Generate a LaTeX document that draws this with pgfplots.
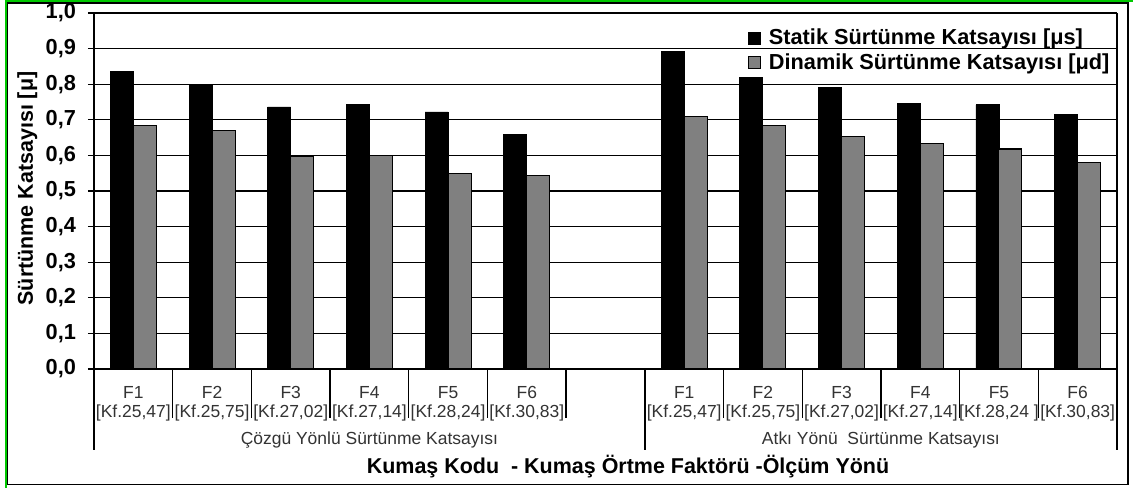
\documentclass[border=0pt]{standalone}
\usepackage{fontspec}
\setmainfont{Liberation Sans}
\usepackage{pgfplots}
\pgfplotsset{compat=1.18}
\definecolor{frgreen}{RGB}{0,200,0}
\definecolor{dyngray}{RGB}{128,128,128}
\begin{document}
\begin{tikzpicture}
\useasboundingbox (0,0) rectangle (849.75pt,366pt);
\fill[white] (0,0) rectangle (849.75pt,366pt);
\draw[black, line width=1.1pt] (5.8pt,2.6pt) rectangle (846pt,363.9pt);
\draw[frgreen, line width=1.4pt] (4.6pt,0pt) -- (4.6pt,365.3pt) -- (849.75pt,365.3pt);
\begin{axis}[
  at={(70.5pt,89.25pt)}, anchor=south west,
  scale only axis, width=767.25pt, height=267pt,
  xmin=-0.5, xmax=12.5, ymin=0, ymax=1,
  clip=false,
  ybar=0pt, bar width=17.25pt,
  axis x line*=bottom, axis y line*=left,
  axis line style={-, line width=1pt, black},
  ytick={0,0.1,0.2,0.3,0.4,0.5,0.6,0.7,0.8,0.9,1},
  ymajorgrids, grid style={black, line width=1pt},
  ytick align=outside, major tick length=4.5pt,
  ytick style={black, line width=1pt},
  yticklabel style={font=\bfseries\fontsize{16.3}{16.3}\selectfont, xshift=-5.5pt, /pgf/number format/.cd, fixed, fixed zerofill, precision=1, use comma, assume math mode=true},
  xtick={0,1,2,3,4,5,7,8,9,10,11,12},
  xticklabels={{F1\\{[Kf.25,47]}},{F2\\{[Kf.25,75]}},{F3\\{[Kf.27,02]}},{F4\\{[Kf.27,14]}},{F5\\{[Kf.28,24]}},{F6\\{[Kf.30,83]}},
               {F1\\{[Kf.25,47]}},{F2\\{[Kf.25,75]}},{F3\\{[Kf.27,02]}},{F4\\{[Kf.27,14]}},{F5\\{[Kf.28,24 ]}},{F6\\{[Kf.30,83]}}},
  xtick style={draw=none},
  xticklabel style={align=center, font=\fontsize{13.1}{14.25}\selectfont, text=black!80, yshift=-5.25pt},
  xlabel={Kumaş Kodu\ \ - Kumaş Örtme Faktörü -Ölçüm Yönü},
  xlabel style={at={([yshift=-73.5pt]rel axis cs:0.522,0)}, anchor=center, font=\bfseries\fontsize{16.1}{16.1}\selectfont},
  ylabel={Sürtünme Katsayısı [μ]},
  ylabel style={at={([xshift=-50pt]rel axis cs:0,0.507)}, anchor=center, font=\bfseries\fontsize{16.1}{16.1}\selectfont},
  legend style={at={(rel axis cs:0.639,0.963)}, anchor=north west, draw=none, fill=none,
     font=\bfseries\fontsize{16.3}{16.3}\selectfont, inner sep=0pt, row sep=1pt},
  legend cell align=left,
]
\addplot[fill=black, draw=black, line width=0.6pt,
  legend image code/.code={\draw[fill=black,draw=black] (0pt,-4.5pt) rectangle (9pt,4.5pt); \path (13pt,0pt);}]
  coordinates {(0,0.836) (1,0.798) (2,0.736) (3,0.743) (4,0.722) (5,0.659)
               (7,0.893) (8,0.820) (9,0.790) (10,0.747) (11,0.742) (12,0.716)};
\addlegendentry{Statik Sürtünme Katsayısı [μs]}
\addplot[fill=dyngray, draw=black, line width=0.8pt,
  legend image code/.code={\draw[fill=dyngray,draw=black,line width=0.6pt] (0pt,-4.5pt) rectangle (9pt,4.5pt); \path (13pt,0pt);}]
  coordinates {(0,0.684) (1,0.669) (2,0.597) (3,0.601) (4,0.548) (5,0.544)
               (7,0.710) (8,0.684) (9,0.654) (10,0.633) (11,0.618) (12,0.580)};
\addlegendentry{Dinamik Sürtünme Katsayısı [μd]}
% separators
\draw[line width=1pt] (axis cs:0.5,0) -- ++(0pt,-36.75pt);
\draw[line width=1pt] (axis cs:1.5,0) -- ++(0pt,-36.75pt);
\draw[line width=1pt] (axis cs:2.5,0) -- ++(0pt,-36.75pt);
\draw[line width=1pt] (axis cs:3.5,0) -- ++(0pt,-36.75pt);
\draw[line width=1pt] (axis cs:4.5,0) -- ++(0pt,-36.75pt);
\draw[line width=1pt] (axis cs:5.5,0) -- ++(0pt,-36.75pt);
\draw[line width=1pt] (axis cs:7.5,0) -- ++(0pt,-36.75pt);
\draw[line width=1pt] (axis cs:8.5,0) -- ++(0pt,-36.75pt);
\draw[line width=1pt] (axis cs:9.5,0) -- ++(0pt,-36.75pt);
\draw[line width=1pt] (axis cs:10.5,0) -- ++(0pt,-36.75pt);
\draw[line width=1pt] (axis cs:11.5,0) -- ++(0pt,-36.75pt);
\draw[line width=1pt] (axis cs:-0.5,0) -- ++(0pt,-60.75pt);
\draw[line width=1pt] (axis cs:6.5,0) -- ++(0pt,-60.75pt);
\draw[line width=1pt] (axis cs:12.5,1) -- (axis cs:12.5,0) -- ++(0pt,-60.75pt);
\node[font=\fontsize{13.1}{13.1}\selectfont, text=black!80] at ([yshift=-53.5pt]axis cs:3,0) {Çözgü Yönlü Sürtünme Katsayısı};
\node[font=\fontsize{13.1}{13.1}\selectfont, text=black!80] at ([yshift=-53.5pt]axis cs:9.5,0) {Atkı Yönü\ \ Sürtünme Katsayısı};
\end{axis}
\end{tikzpicture}
\end{document}
